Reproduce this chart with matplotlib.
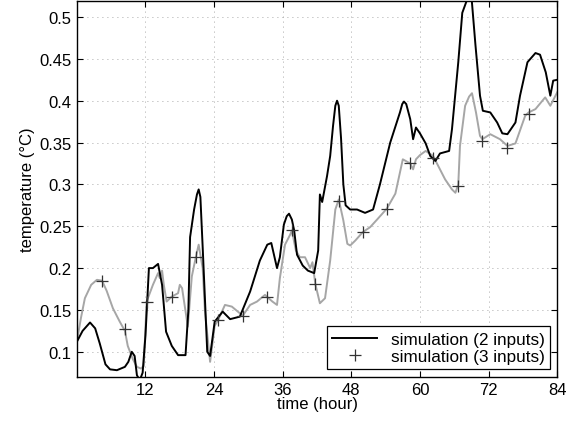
import matplotlib
matplotlib.use("Agg")
from matplotlib import pyplot as plt

# simulation with 2 inputs (black line)
t_2in = [0, 1, 2.3, 3.2, 4, 5, 5.8, 7, 8.4, 9, 9.6, 10.1, 10.5, 11, 11.5, 12, 12.6,
         13.3, 14.2, 14.9, 15.6, 16.6, 17.7, 19, 19.5, 19.8, 20.5, 21, 21.3, 21.6,
         22, 22.8, 23.3, 24.1, 25.5, 26.8, 28.5, 30.3, 32, 33.3, 34, 35, 35.5, 36.2,
         36.7, 37.1, 37.6, 38, 38.5, 39.5, 40.4, 41.5, 42.2, 42.5, 42.9, 43.75, 44.3,
         44.8, 45.2, 45.5, 45.8, 46.2, 46.6, 47, 47.8, 49, 50.4, 51.8, 53, 54.8, 56.5,
         56.9, 57.2, 57.6, 58.3, 58.8, 59.3, 60, 61, 61.8, 62.7, 63.5, 65.1, 65.6,
         66.7, 67.4, 68.2, 69, 69.7, 70.5, 71, 72.3, 73.5, 74.4, 75.3, 76.7, 77.5,
         78.8, 80.2, 81, 82, 82.8, 83.3, 84]
v_2in = [0.112, 0.125, 0.135, 0.128, 0.11, 0.085, 0.079, 0.078, 0.082, 0.088, 0.1,
         0.095, 0.072, 0.066, 0.075, 0.12, 0.2, 0.2, 0.205, 0.18, 0.124, 0.107,
         0.096, 0.096, 0.15, 0.237, 0.27, 0.288, 0.294, 0.285, 0.225, 0.1, 0.095,
         0.136, 0.148, 0.139, 0.142, 0.172, 0.209, 0.228, 0.23, 0.2, 0.213, 0.252,
         0.262, 0.265, 0.258, 0.245, 0.216, 0.203, 0.197, 0.194, 0.221, 0.288, 0.279,
         0.31, 0.334, 0.37, 0.394, 0.4, 0.394, 0.355, 0.3, 0.275, 0.27, 0.27, 0.266,
         0.27, 0.3, 0.35, 0.386, 0.396, 0.399, 0.396, 0.378, 0.354, 0.368, 0.361,
         0.349, 0.334, 0.328, 0.337, 0.34, 0.366, 0.446, 0.505, 0.52, 0.525, 0.467,
         0.406, 0.388, 0.386, 0.374, 0.361, 0.36, 0.374, 0.406, 0.446, 0.457, 0.455,
         0.434, 0.406, 0.424, 0.425]

# simulation with 3 inputs (gray line)
t_3in = [0, 0.7, 1.4, 2.5, 3.5, 4.4, 5.2, 6.3, 7.5, 8.4, 8.9, 9.8, 10.5, 11.2, 11.7,
         12.2, 13.3, 14.2, 14.5, 14.9, 15.2, 15.7, 16.3, 16.6, 17.7, 18, 18.4, 19.1,
         19.4, 20.1, 20.8, 21.3, 22, 22.4, 23.3, 24.1, 24.7, 25.9, 27.1, 28.5, 29,
         30.3, 31.5, 32.9, 33.2, 34.2, 35, 35.5, 36.4, 37.3, 37.6, 38.3, 39, 39.9,
         40.8, 41.2, 41.7, 42.5, 43.4, 44.3, 45.2, 45.8, 46.6, 47.3, 47.8, 48.7, 50,
         51.3, 52.5, 54.2, 55.7, 57, 58.3, 58.8, 59.3, 60, 61, 62.3, 63.5, 64.4,
         65.6, 66.2, 66.7, 67, 67.9, 68.6, 69.1, 69.8, 70.5, 70.9, 72.3, 74, 75.3,
         76.7, 78.4, 79, 80.2, 81.9, 82.8, 84]
v_3in = [0.112, 0.14, 0.164, 0.18, 0.186, 0.185, 0.173, 0.152, 0.136, 0.125, 0.107,
         0.091, 0.082, 0.08, 0.083, 0.16, 0.18, 0.194, 0.188, 0.197, 0.18, 0.16,
         0.164, 0.166, 0.17, 0.18, 0.176, 0.144, 0.13, 0.19, 0.213, 0.228, 0.2,
         0.148, 0.088, 0.131, 0.138, 0.156, 0.154, 0.146, 0.143, 0.156, 0.16, 0.168,
         0.166, 0.16, 0.156, 0.188, 0.228, 0.24, 0.245, 0.221, 0.213, 0.213, 0.2,
         0.207, 0.181, 0.158, 0.164, 0.209, 0.27, 0.282, 0.257, 0.229, 0.227, 0.233,
         0.243, 0.249, 0.258, 0.271, 0.289, 0.33, 0.325, 0.318, 0.33, 0.335, 0.34,
         0.334, 0.318, 0.306, 0.294, 0.29, 0.3, 0.346, 0.394, 0.405, 0.409, 0.386,
         0.358, 0.354, 0.36, 0.354, 0.346, 0.349, 0.382, 0.386, 0.39, 0.404, 0.394,
         0.41]

# '+' markers on the 3 inputs curve
t_marks = [4.4, 8.4, 12.2, 16.6, 20.8, 24.7, 29.0, 33.2, 37.6, 41.7, 45.8, 50.0,
           54.2, 58.3, 62.3, 66.7, 70.9, 75.3, 79.0]
v_marks = [0.185, 0.127, 0.16, 0.166, 0.213, 0.138, 0.143, 0.166, 0.245, 0.181,
           0.28, 0.243, 0.271, 0.325, 0.331, 0.298, 0.352, 0.344, 0.384]

xticks = [12, 24, 36, 48, 60, 72, 84]
yticks = [0.1, 0.15, 0.2, 0.25, 0.3, 0.35, 0.4, 0.45, 0.5]
ytick_labels = ["0.1", "0.15", "0.2", "0.25", "0.3", "0.35", "0.4", "0.45", "0.5"]

plt.rcParams["font.family"] = ["Liberation Sans", "DejaVu Sans"]
plt.rcParams["font.size"] = 12

fig = plt.figure(figsize=(5.78, 4.27), dpi=100)
ax = fig.add_axes([0.133, 0.115, 0.831, 0.88])

ax.plot(t_3in, v_3in, color="0.65", lw=1.4)
ax.plot(t_2in, v_2in, color="black", lw=1.4, label="simulation (2 inputs)")
ax.plot(t_marks, v_marks, ls="none", marker="+", ms=8, mew=0.9, color="0.2",
        label="simulation (3 inputs)")

ax.set_xlim(0, 84)
ax.set_ylim(0.07, 0.519)
ax.set_xticks(xticks)
ax.set_yticks(yticks)
ax.set_yticklabels(ytick_labels)
ax.tick_params(direction="in", top=True, right=True, length=4, width=0.8, pad=4)
ax.grid(True, ls=(0, (1, 5)), color="0.55", lw=0.6)
for s in ax.spines.values():
    s.set_linewidth(1.0)

ax.set_xlabel("time (hour)", labelpad=-1)
ax.set_ylabel("temperature (\u00b0C)", labelpad=3)

leg = ax.legend(loc="lower right", fancybox=False, edgecolor="black",
                framealpha=1, borderaxespad=0.45, handlelength=2.6,
                borderpad=0.3, labelspacing=0.15, fontsize=12.3)
leg.get_frame().set_linewidth(0.9)

fig.savefig("out.png", dpi=100)
